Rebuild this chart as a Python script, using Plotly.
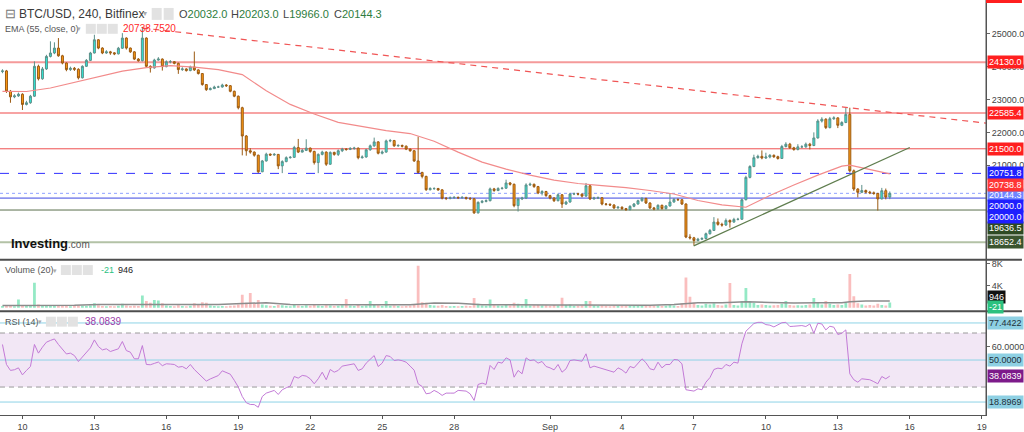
import plotly.graph_objects as go
import pandas as pd

# ---------------- data ----------------
first_open = 23850.0
close = [
    23870, 23250, 23080, 23110, 23160, 22850, 22900, 23100, 24010, 23630,
    23930, 24310, 24415, 24565, 24330, 24110, 23910, 23950, 23920, 23660,
    24010, 24190, 24415, 24817, 24565, 24415, 24450, 24420, 24390, 24560,
    24870, 24565, 24450, 24230, 24180, 24870, 24010, 23960, 24200, 24230,
    24000, 24150, 24150, 24100, 23910, 23930, 23880, 23990, 23900, 23790,
    23455, 23300, 23330, 23380, 23380, 23440, 23420, 23250, 23100, 22750,
    21890, 21440, 21400, 21305, 20800, 21130, 21335, 21310, 21330, 20980,
    21110, 21230, 21240, 21540, 21400, 21450, 21520, 21420, 21080, 21330,
    21400, 21030, 21390, 21330, 21440, 21490, 21480, 21510, 21520, 21230,
    21250, 21470, 21590, 21710, 21365, 21400, 21740, 21750, 21590, 21600,
    21580, 21490, 21440, 21130, 20780, 20660, 20255, 20290, 20290, 20250,
    19995, 19990, 20010, 20020, 20010, 20020, 19990, 19980, 19550, 19870,
    19900, 19920, 20280, 20230, 20290, 20300, 20460, 20420, 19770, 19975,
    20000, 20400, 20420, 20350, 20155, 20200, 20075, 20000, 19920, 20100,
    19820, 19880, 20125, 20130, 20120, 20060, 20375, 19975, 20000, 20010,
    19820, 19810, 19790, 19700, 19720, 19680, 19650, 19750, 19820, 19920,
    19990, 19850, 19700, 19670, 19780, 19680, 19760, 19880, 19960, 19950,
    19820, 18815, 18790, 18710, 18750, 18770, 18915, 19015, 19270, 19200,
    19180, 19320, 19270, 19350, 19355, 19950, 20630, 20960, 21230, 21270,
    21220, 21250, 21300, 21260, 21205, 21570, 21640, 21530, 21480, 21560,
    21560, 21640, 21600, 21830, 22345, 22400, 22145, 22415, 22440, 22215,
    22300, 22547, 20830, 20276, 20175, 20230, 20180, 20160, 20140, 19975,
    20225, 20032, 20144.3,
]
high = [
    23920, 23900, 23290, 23160, 23210, 23190, 22960, 23140, 24160, 24060,
    23990, 24360, 24770, 24740, 24870, 24360, 24130, 24000, 23990, 23950,
    24040, 24230, 24450, 24970, 24840, 24590, 24500, 24480, 24440, 24600,
    25020, 24890, 24580, 24470, 24260, 25210, 24890, 24040, 24240, 24290,
    24250, 24190, 24200, 24170, 24120, 23980, 23950, 24030, 24460, 23920,
    23800, 23470, 23370, 23420, 23420, 23480, 23470, 23440, 23270, 23120,
    22780, 21920, 21520, 21420, 21320, 21160, 21380, 21360, 21370, 21340,
    21150, 21270, 21280, 21590, 21800, 21500, 21790, 21540, 21440, 21360,
    21440, 21420, 21420, 21410, 21480, 21530, 21520, 21550, 21560, 21540,
    21300, 21500, 21630, 21840, 21730, 21450, 21780, 21800, 21770, 21640,
    21630, 21600, 21510, 21460, 21870, 20800, 20680, 20330, 20330, 20310,
    20270, 20030, 20050, 20060, 20050, 20060, 20040, 20030, 20000, 19900,
    19940, 19960, 20320, 20310, 20330, 20340, 20560, 20490, 20440, 20010,
    20040, 20450, 20470, 20440, 20370, 20240, 20220, 20100, 20030, 20140,
    20120, 19920, 20160, 20170, 20160, 20140, 20460, 20400, 20040, 20050,
    20030, 19850, 19840, 19810, 19760, 19750, 19700, 19780, 19850, 19950,
    20030, 20010, 19870, 19730, 19810, 19800, 19790, 20155, 20000, 19990,
    19970, 19840, 18900, 18820, 18790, 18810, 18950, 19060, 19420, 19380,
    19250, 19380, 19350, 19400, 19400, 19990, 20680, 21000, 21320, 21320,
    21450, 21380, 21340, 21330, 21290, 21620, 21700, 21680, 21560, 21640,
    21610, 21690, 21680, 22000, 22400, 22460, 22430, 22470, 22490, 22460,
    22340, 22750, 22750, 20870, 20300, 20400, 20260, 20220, 20200, 20160,
    20310, 20290, 20203.0,
]
low = [
    23800, 23200, 22900, 23040, 23080, 22680, 22820, 22870, 23080, 23580,
    23600, 23900, 24280, 24380, 24300, 24070, 23860, 23870, 23870, 23610,
    23640, 23990, 24170, 24400, 24530, 24380, 24390, 24360, 24350, 24370,
    24540, 24520, 24420, 24200, 24150, 24160, 23980, 23820, 23940, 24180,
    23880, 23980, 24100, 24070, 23780, 23870, 23850, 23860, 23870, 23760,
    23420, 23260, 23280, 23320, 23350, 23360, 23380, 23220, 23070, 22700,
    21300, 21290, 21350, 21260, 20760, 20790, 21110, 21280, 21290, 20880,
    20760, 21090, 21200, 21220, 21370, 21390, 21430, 21380, 21020, 20760,
    21300, 20980, 21010, 21290, 21280, 21400, 21440, 21460, 21470, 21180,
    21200, 21230, 21440, 21560, 21330, 21330, 21380, 21700, 21560, 21560,
    21540, 21460, 21410, 21100, 20750, 20600, 20220, 20230, 20250, 20220,
    19960, 19940, 19960, 19980, 19970, 19980, 19950, 19940, 19520, 19530,
    19840, 19870, 19900, 20190, 20210, 20260, 20280, 20380, 19720, 19590,
    19940, 19970, 20370, 20310, 20120, 20080, 20040, 19960, 19880, 19900,
    19700, 19790, 19860, 20090, 20080, 20020, 20040, 19940, 19950, 19970,
    19780, 19770, 19760, 19670, 19680, 19640, 19610, 19620, 19720, 19800,
    19890, 19820, 19670, 19630, 19640, 19650, 19650, 19740, 19860, 19910,
    19790, 18780, 18740, 18560, 18680, 18720, 18740, 18890, 19000, 19160,
    19130, 19150, 19100, 19250, 19320, 19340, 19930, 20600, 20940, 21200,
    21180, 21190, 21210, 21220, 21170, 21190, 21540, 21500, 21440, 21450,
    21520, 21530, 21480, 21580, 21810, 22300, 22100, 22120, 22380, 22130,
    22190, 22280, 20780, 20220, 20020, 20150, 20140, 20120, 20100, 19620,
    19960, 19960, 19966.0,
]
volume = [
    300, 450, 350, 250, 1500, 500, 300, 350, 4550, 600,
    400, 500, 450, 350, 400, 300, 350, 250, 300, 400,
    350, 300, 400, 800, 450, 300, 250, 300, 250, 350,
    700, 400, 300, 350, 300, 2240, 1200, 900, 1400, 1300,
    800, 400, 300, 250, 450, 300, 250, 350, 800, 500,
    1000, 900, 400, 300, 250, 300, 250, 350, 400, 600,
    2350, 900, 2670, 800, 1400, 600, 450, 350, 300, 500,
    450, 350, 250, 500, 400, 300, 450, 350, 500, 400,
    300, 450, 400, 300, 350, 450, 1600, 400, 300, 550,
    300, 400, 1200, 500, 450, 300, 1200, 350, 400, 300,
    250, 300, 350, 600, 7600, 1000, 900, 500, 400, 350,
    500, 300, 250, 300, 250, 300, 350, 300, 1750, 700,
    400, 350, 1500, 450, 400, 350, 600, 400, 900, 700,
    400, 1600, 400, 450, 500, 400, 450, 350, 500, 400,
    1800, 500, 600, 300, 350, 400, 1200, 1200, 400, 300,
    400, 300, 250, 350, 300, 300, 350, 400, 350, 450,
    400, 350, 400, 350, 400, 300, 350, 600, 400, 300,
    800, 5500, 2000, 900, 500, 400, 700, 600, 800, 500,
    400, 600, 4500, 500, 400, 1200, 3600, 1200, 900, 500,
    600, 500, 400, 450, 500, 700, 1200, 500, 400, 450,
    400, 500, 600, 1750, 900, 600, 1200, 700, 500, 600,
    500, 900, 6100, 2100, 800, 600, 400, 500, 400, 700,
    500, 400, 946,
]
rsi = [
    61.5, 46.7, 42.3, 42.8, 44.2, 39.0, 42.3, 45.2, 61.5, 55.1,
    59.5, 63.2, 64.5, 65.6, 61.5, 58.0, 54.5, 55.1, 53.3, 48.9,
    52.5, 55.5, 59.0, 64.9, 60.0, 57.5, 58.3, 56.3, 57.5, 58.3,
    63.7, 57.0, 55.8, 50.9, 50.9, 60.7, 46.7, 46.5, 47.5, 48.5,
    45.8, 47.2, 47.0, 46.7, 44.7, 45.2, 43.5, 46.7, 43.0, 40.0,
    36.8, 34.4, 36.0, 37.0, 38.5, 42.0, 41.0, 39.5, 35.0, 30.0,
    23.0, 18.4, 17.1, 17.0, 15.0, 23.0, 25.5, 26.3, 27.5, 24.5,
    28.0, 29.5, 30.7, 37.8, 36.6, 38.6, 38.1, 36.1, 32.4, 36.1,
    41.0, 35.4, 43.0, 41.0, 42.3, 45.5, 46.2, 46.7, 47.2, 42.3,
    43.5, 47.7, 50.9, 53.3, 45.2, 47.7, 53.3, 52.6, 49.6, 50.1,
    49.5, 48.4, 45.5, 42.5, 32.4, 30.4, 25.0, 25.5, 27.5, 26.0,
    23.8, 25.5, 25.5, 25.5, 27.5, 27.3, 27.0, 25.0, 20.1, 31.9,
    32.9, 31.9, 46.0, 43.0, 48.4, 47.7, 51.6, 50.1, 37.3, 42.3,
    39.8, 51.6, 49.6, 50.1, 47.7, 48.9, 45.2, 44.2, 42.7, 46.7,
    41.0, 43.5, 49.6, 50.1, 49.5, 49.1, 54.6, 44.2, 45.5, 44.5,
    43.5, 43.0, 42.0, 41.0, 44.2, 42.7, 40.3, 45.2, 44.2, 47.5,
    50.9, 48.0, 43.5, 42.7, 48.4, 44.2, 46.7, 46.7, 50.4, 50.1,
    47.2, 28.0, 27.5, 27.0, 28.7, 28.0, 33.6, 37.0, 43.0, 44.0,
    43.5, 46.7, 45.5, 48.4, 47.7, 62.0, 71.3, 74.5, 77.0, 77.9,
    77.9, 76.2, 75.8, 74.5, 76.0, 77.6, 77.9, 74.8, 75.0, 75.3,
    75.5, 74.8, 76.7, 69.8, 77.2, 76.7, 72.3, 75.0, 74.3, 68.9,
    69.8, 72.3, 39.8, 35.4, 33.6, 36.1, 35.8, 35.4, 34.0, 32.4,
    37.8, 36.1, 38.0839,
]
# EMA(55) and volume MA(20), read at these candle numbers
line_idx = [0, 6, 12, 18, 24, 30, 36, 42, 48, 54, 60, 66, 72, 78, 84, 90, 96,
            102, 108, 114, 120, 126, 132, 138, 144, 150, 156, 162, 168, 174,
            180, 186, 192, 198, 204, 210, 212, 216, 222]
ema_val = [23250, 23243, 23350, 23516, 23697, 23864, 23970, 24030, 23985, 23909,
           23758, 23265, 22850, 22560, 22305, 22176, 22055, 21964, 21730, 21397,
           21094, 20882, 20700, 20549, 20443, 20382, 20321, 20230, 20124, 19927,
           19791, 19721, 20080, 20397, 20700, 20972, 21003, 20897, 20738.75]
vol_ma = [400, 400, 450, 450, 600, 600, 700, 650, 600, 600, 750, 900, 600, 550,
          550, 550, 550, 550, 850, 800, 550, 500, 500, 500, 500, 450, 450, 450,
          600, 900, 900, 1070, 950, 850, 900, 900, 1100, 1200, 1200]

# drawn levels: (label, value, line colour, width, dash, label bg, label shift px)
levels = [
    ("24130.0", 24130.0, "#f59a9a", 2, "solid", "#ff1f1f", 0),
    ("22585.4", 22585.4, "#f7a3a3", 2, "solid", "#ff1f1f", 0),
    ("21500.0", 21500.0, "#ee5050", 1, "solid", "#ff1f1f", 0),
    ("20751.8", 20751.8, "#2f2fff", 1, "dash", "#1f1fff", 0),
    ("20144.3", 20144.3, "#8ea2ff", 1, "dot", "#6f86ff", -2),
    ("20000.0", 20000.0, "#3b45e0", 1, "solid", "#1f1fff", -8),
    ("19636.5", 19636.5, "#5a6e4c", 1, "solid", "#2e4a23", -18),
    ("18652.4", 18652.4, "#b3c2a6", 2, "solid", "#3b5530", 0),
]
extra_labels = [("20738.8", 20738.8, "#ff3535", -11), ("20000.0", 20000.0, "#1f1fff", -19)]
dash_line_t = ["2022-08-15 00:00", "2022-09-19 04:17"]
dash_line_p = [25175, 22280]
up_line_t = ["2022-09-06 23:45", "2022-09-16 00:00"]
up_line_p = [18545, 21540]
x_tick_dates = ["2022-08-10", "2022-08-13", "2022-08-16", "2022-08-19", "2022-08-22",
                "2022-08-25", "2022-08-28", "2022-09-01", "2022-09-04", "2022-09-07",
                "2022-09-10", "2022-09-13", "2022-09-16", "2022-09-19"]
x_tick_text = ["10", "13", "16", "19", "22", "25", "28", "Sep", "4", "7", "10", "13", "16", "19"]
price_ticks = [21000, 22000, 23000, 24000, 25000]
rsi_levels = [77.4422, 50.0, 18.8969]
rsi_last = 38.0839

# ---------------- figure ----------------
times = pd.date_range("2022-08-09 04:00", periods=len(close), freq="4h")
opens = [first_open] + close[:-1]
line_t = [times[i] for i in line_idx]
xr = ["2022-08-09 01:32", "2022-09-19 04:17"]
FONT = "Liberation Sans, Arial, sans-serif"

fig = go.Figure()

for lab, val, col, w, dash, bg, sh in levels:
    fig.add_shape(type="line", xref="paper", x0=0, x1=1, yref="y", y0=val, y1=val,
                  line=dict(color=col, width=w, dash=dash), layer="below")

fig.add_trace(go.Scatter(x=line_t, y=ema_val, mode="lines", line=dict(color="#f28b8b", width=1.2),
                         xaxis="x", yaxis="y", hoverinfo="skip", showlegend=False))
fig.add_trace(go.Scatter(x=dash_line_t, y=dash_line_p, mode="lines",
                         line=dict(color="#f05555", width=1.2, dash="6px,5px"),
                         xaxis="x", yaxis="y", hoverinfo="skip", showlegend=False))
fig.add_trace(go.Scatter(x=up_line_t, y=up_line_p, mode="lines", line=dict(color="#5f7d4e", width=1.3),
                         xaxis="x", yaxis="y", hoverinfo="skip", showlegend=False))
fig.add_trace(go.Candlestick(
    x=times, open=opens, high=high, low=low, close=close,
    increasing=dict(line=dict(color="#5c8f89", width=1), fillcolor="#2fe6d6"),
    decreasing=dict(line=dict(color="#9b5a12", width=1), fillcolor="#ff9a12"),
    whiskerwidth=0, xaxis="x", yaxis="y", hoverinfo="skip", showlegend=False))

vcol = ["rgba(60,215,150,0.55)" if c >= o else "rgba(245,110,110,0.45)" for o, c in zip(opens, close)]
fig.add_trace(go.Bar(x=times, y=volume, marker=dict(color=vcol, line=dict(width=0)),
                     width=1.0e7, xaxis="x2", yaxis="y2", hoverinfo="skip", showlegend=False))
fig.add_trace(go.Scatter(x=line_t, y=vol_ma, mode="lines", line=dict(color="#8c8c8c", width=1.5),
                         xaxis="x2", yaxis="y2", hoverinfo="skip", showlegend=False))

# RSI pane
fig.add_shape(type="rect", xref="paper", x0=0, x1=1, yref="y3", y0=30, y1=70,
              fillcolor="rgba(150,60,170,0.12)", line=dict(width=0), layer="below")
for v in (70, 30):
    fig.add_shape(type="line", xref="paper", x0=0, x1=1, yref="y3", y0=v, y1=v,
                  line=dict(color="#9a9a9a", width=1, dash="5px,4px"), layer="below")
for v in rsi_levels:
    fig.add_shape(type="line", xref="paper", x0=0, x1=1, yref="y3", y0=v, y1=v,
                  line=dict(color="#8ed3e6", width=1), layer="below")
fig.add_trace(go.Scatter(x=times, y=rsi, mode="lines", line=dict(color="#c27ad6", width=1),
                         xaxis="x3", yaxis="y3", hoverinfo="skip", showlegend=False))

# pixel helpers for decorations (plot area 0..988 x, 2..418 y)
def px(x):
    return x / 988.0

def py(y):
    return (418.0 - y) / 416.0

# pane separators, frame bits
for yy in (261.5, 313.5):
    fig.add_shape(type="line", xref="paper", yref="paper", x0=0, x1=1024 / 988.0, y0=py(yy), y1=py(yy),
                  line=dict(color="#4d4d4d", width=2))
fig.add_shape(type="line", xref="paper", yref="paper", x0=1, x1=1, y0=0, y1=py(0),
              line=dict(color="#555", width=1))
fig.add_shape(type="rect", xref="paper", yref="paper", x0=1, x1=1024 / 988.0, y0=py(3), y1=py(0),
              fillcolor="#ff1f1f", line=dict(width=0))

ann = []

def label(text, y, yref, bg, fg="white", shift=0):
    ann.append(dict(text=text, x=1, xref="paper", xanchor="left", xshift=1, y=y, yref=yref,
                    yanchor="middle", yshift=shift, showarrow=False, bgcolor=bg, borderpad=1,
                    font=dict(family=FONT, size=9, color=fg)))

for lab, val, col, w, dash, bg, sh in levels:
    label(lab, val, "y", bg, shift=sh)
for lab, val, bg, sh in extra_labels:
    label(lab, val, "y", bg, shift=sh)
label("946", volume[-1], "y2", "#111111", shift=6)
label("-21", -21, "y2", "#2bc17f", shift=1)
for v in rsi_levels:
    label("%.4f" % v, v, "y3", "#8ed0e3", fg="#1f2f3a")
label("%.4f" % rsi_last, rsi_last, "y3", "#7d1a8a")

def text(t, x, y, size, color, bold=False, family=FONT):
    ann.append(dict(text=("<b>%s</b>" % t) if bold else t, x=px(x), y=py(y), xref="paper", yref="paper",
                    xanchor="left", yanchor="middle", showarrow=False,
                    font=dict(family=family, size=size, color=color)))

# legends
text("⊟", 3, 14, 13, "#777")
text("BTC/USD, 240, Bitfinex", 17, 14, 12, "#3a3a3a")
text("▾", 141, 14, 8, "#aaa")
for x0 in (152, 164):
    fig.add_shape(type="rect", xref="paper", yref="paper", x0=px(x0), x1=px(x0 + 10), y0=py(20), y1=py(8),
                  fillcolor="#e2e2e2", line=dict(width=0))
ohlc = [("O", "20032.0", 177), ("H", "20203.0", 229), ("L", "19966.0", 282), ("C", "20144.3", 333)]
for k, v, x0 in ohlc:
    ann.append(dict(text='<span style="color:#444">%s</span>%s' % (k, v), x=px(x0), y=py(14),
                    xref="paper", yref="paper", xanchor="left", yanchor="middle", showarrow=False,
                    font=dict(family=FONT, size=11, color="#2e7d40")))
text("EMA (55, close, 0)", 3, 29, 9, "#555")
text("▾", 75, 29, 7, "#aaa")
for x0 in (86, 97, 108):
    fig.add_shape(type="rect", xref="paper", yref="paper", x0=px(x0), x1=px(x0 + 10), y0=py(34), y1=py(24),
                  fillcolor="#e2e2e2", line=dict(width=0))
text("20738.7520", 121, 29, 10, "#ff2a2a")
text("Volume (20)", 3, 272, 9, "#555")
text("▾", 51, 272, 7, "#aaa")
for x0 in (61, 72, 83):
    fig.add_shape(type="rect", xref="paper", yref="paper", x0=px(x0), x1=px(x0 + 10), y0=py(277), y1=py(267),
                  fillcolor="#e2e2e2", line=dict(width=0))
text("-21", 99, 272, 9, "#2bc17f")
text("946", 116, 272, 9, "#222")
text("RSI (14)", 3, 324, 9, "#555")
text("▾", 36, 324, 7, "#aaa")
for x0 in (46, 57, 68):
    fig.add_shape(type="rect", xref="paper", yref="paper", x0=px(x0), x1=px(x0 + 10), y0=py(329), y1=py(319),
                  fillcolor="#e2e2e2", line=dict(width=0))
text("38.0839", 83, 324, 10, "#9b3aa8")
ann.append(dict(text='<b>Investing</b><span style="font-size:10px;color:#555">.com</span>', x=px(9), y=py(245),
                xref="paper", yref="paper", xanchor="left", yanchor="middle", showarrow=False,
                font=dict(family=FONT, size=13, color="#111")))

axis_common = dict(showgrid=False, zeroline=False)
fig.update_layout(
    width=1024, height=432, margin=dict(l=0, r=36, t=2, b=14),
    paper_bgcolor="white", plot_bgcolor="white", showlegend=False,
    font=dict(family=FONT, size=9, color="#444"),
    annotations=ann,
    xaxis=dict(domain=[0, 1], range=xr, anchor="y", type="date", showticklabels=False, ticks="",
               rangeslider=dict(visible=False), **axis_common),
    xaxis2=dict(domain=[0, 1], range=xr, anchor="y2", type="date", showticklabels=False, ticks="",
                **axis_common),
    xaxis3=dict(domain=[0, 1], range=xr, anchor="y3", type="date", tickvals=x_tick_dates,
                ticktext=x_tick_text, ticks="outside", ticklen=3, tickcolor="#555",
                showline=True, linecolor="#555", linewidth=1,
                tickfont=dict(family=FONT, size=9, color="#444"), **axis_common),
    yaxis=dict(domain=[py(261.5), 1], range=[18127, 25967], side="right", anchor="x",
               tickvals=price_ticks, ticktext=["%.1f" % v for v in price_ticks],
               ticks="outside", ticklen=3, tickcolor="#666", showline=True, linecolor="#555",
               tickfont=dict(family=FONT, size=9, color="#444"), **axis_common),
    yaxis2=dict(domain=[py(313.5), py(261.5)], range=[-640, 8730], side="right", anchor="x2",
                tickvals=[4000, 8000], ticktext=["4K", "8K"], ticks="outside", ticklen=3,
                tickcolor="#666", showline=True, linecolor="#555",
                tickfont=dict(family=FONT, size=9, color="#444"), **axis_common),
    yaxis3=dict(domain=[0, py(313.5)], range=[9.3, 86.1], side="right", anchor="x3",
                tickvals=[60], ticktext=["60.0000"],
                ticks="outside", ticklen=3, tickcolor="#666", showline=True, linecolor="#555",
                tickfont=dict(family=FONT, size=9, color="#444"), **axis_common),
)

fig.write_html("out.html", config={"displayModeBar": False},
               post_script="document.body.style.margin='0';document.body.style.overflow='hidden';")
